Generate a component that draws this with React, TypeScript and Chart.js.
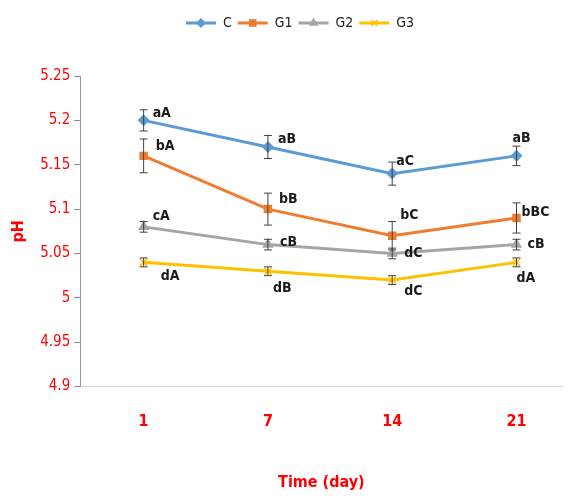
import React, { useEffect, useRef } from "react";
import { Chart, registerables } from "chart.js";

Chart.register(...registerables);

const categories = ["1", "7", "14", "21"];
const seriesNames = ["C", "G1", "G2", "G3"];

const cValues = [5.2, 5.17, 5.14, 5.16];
const g1Values = [5.16, 5.1, 5.07, 5.09];
const g2Values = [5.08, 5.06, 5.05, 5.06];
const g3Values = [5.04, 5.03, 5.02, 5.04];

const cErrors = [0.012, 0.013, 0.013, 0.011];
const g1Errors = [0.019, 0.018, 0.016, 0.017];
const g2Errors = [0.006, 0.006, 0.006, 0.006];
const g3Errors = [0.005, 0.005, 0.005, 0.005];

const cLetters = ["aA", "aB", "aC", "aB"];
const g1Letters = ["bA", "bB", "bC", "bBC"];
const g2Letters = ["cA", "cB", "dC", "cB"];
const g3Letters = ["dA", "dB", "dC", "dA"];

const yTicks = [4.9, 4.95, 5, 5.05, 5.1, 5.15, 5.2, 5.25];

// styling (not data): label offsets in pixels relative to each point
const letterOffsets = [
  [[9, -7], [10, -8], [4, -12], [-4, -18]],
  [[12, -10], [11, -10], [8, -20], [5, -6]],
  [[9, -11], [12, -2], [12, 0], [11, 0]],
  [[17, 14], [5, 17], [12, 11], [0, 16]],
];

const colors = ["#5B9BD5", "#ED7D31", "#A5A5A5", "#FFC000"];
const pointStyles = ["rectRot", "rect", "triangle", "crossRot"];
const pointRadii = [6, 6, 6.5, 5];

const allValues = [cValues, g1Values, g2Values, g3Values];
const allErrors = [cErrors, g1Errors, g2Errors, g3Errors];
const allLetters = [cLetters, g1Letters, g2Letters, g3Letters];

const NARROW = "'Liberation Sans Narrow', 'DejaVu Sans Condensed', 'Open Sans', sans-serif";
const LEGEND_PAD = 6;
const LEGEND_FONT = 14;
const LEGEND_SHIFT = 18;

function drawMarker(ctx: CanvasRenderingContext2D, style: string, x: number, y: number, r: number, color: string) {
  ctx.save();
  ctx.fillStyle = color;
  ctx.strokeStyle = color;
  ctx.lineWidth = 1.5;
  ctx.beginPath();
  if (style === "rectRot") {
    ctx.moveTo(x, y - r);
    ctx.lineTo(x + r, y);
    ctx.lineTo(x, y + r);
    ctx.lineTo(x - r, y);
    ctx.closePath();
    ctx.fill();
  } else if (style === "rect") {
    ctx.rect(x - r * 0.75, y - r * 0.75, r * 1.5, r * 1.5);
    ctx.fill();
  } else if (style === "triangle") {
    ctx.moveTo(x, y - r);
    ctx.lineTo(x + r * 0.87, y + r * 0.5);
    ctx.lineTo(x - r * 0.87, y + r * 0.5);
    ctx.closePath();
    ctx.fill();
  } else {
    const d = r * 0.7;
    ctx.moveTo(x - d, y - d);
    ctx.lineTo(x + d, y + d);
    ctx.moveTo(x + d, y - d);
    ctx.lineTo(x - d, y + d);
    ctx.stroke();
  }
  ctx.restore();
}

const errorBarPlugin = {
  id: "errorBars",
  afterDatasetsDraw(chart: any) {
    const ctx = chart.ctx;
    const y = chart.scales.y;
    ctx.save();
    ctx.strokeStyle = "#404040";
    ctx.lineWidth = 1;
    chart.data.datasets.forEach((ds: any, di: number) => {
      const meta = chart.getDatasetMeta(di);
      meta.data.forEach((pt: any, i: number) => {
        const v = allValues[di][i];
        const e = allErrors[di][i];
        const yt = y.getPixelForValue(v + e);
        const yb = y.getPixelForValue(v - e);
        const x = pt.x;
        ctx.beginPath();
        ctx.moveTo(x, yt);
        ctx.lineTo(x, yb);
        ctx.moveTo(x - 4, yt);
        ctx.lineTo(x + 4, yt);
        ctx.moveTo(x - 4, yb);
        ctx.lineTo(x + 4, yb);
        ctx.stroke();
      });
    });
    ctx.restore();
  },
  afterDraw(chart: any) {
    const ctx = chart.ctx;
    ctx.save();
    ctx.fillStyle = "#1a1a1a";
    ctx.font = `bold 14px ${NARROW}`;
    ctx.textAlign = "left";
    ctx.textBaseline = "middle";
    chart.data.datasets.forEach((ds: any, di: number) => {
      const meta = chart.getDatasetMeta(di);
      meta.data.forEach((pt: any, i: number) => {
        const off = letterOffsets[di][i];
        ctx.fillText(allLetters[di][i], pt.x + off[0], pt.y + off[1]);
      });
    });
    const legend = chart.legend;
    if (legend && legend.legendHitBoxes) {
      legend.legendHitBoxes.forEach((hb: any, i: number) => {
        const cx = hb.left + 15;
        const cy = legend.top + LEGEND_PAD + LEGEND_FONT / 2;
        drawMarker(ctx, pointStyles[i], cx, cy, pointRadii[i] * 0.85, colors[i]);
      });
    }
    ctx.restore();
  },
};

const legendSpacePlugin = {
  id: "legendSpace",
  beforeInit(chart: any) {
    const legend = chart.legend;
    if (!legend) return;
    const origFit = legend.fit;
    legend.fit = function () {
      origFit.bind(legend)();
      this.height += 36;
    };
  },
  afterUpdate(chart: any) {
    const legend = chart.legend;
    if (!legend) return;
    legend.left += LEGEND_SHIFT;
    legend.right += LEGEND_SHIFT;
    legend.adjustHitBoxes();
  },
};

export default function App() {
  const ref = useRef<HTMLCanvasElement | null>(null);

  useEffect(() => {
    if (!ref.current) return;
    const datasets = seriesNames.map((name, di) => ({
      label: name,
      data: allValues[di].map((v, i) => ({ x: i, y: v })),
      borderColor: colors[di],
      backgroundColor: colors[di],
      borderWidth: 3,
      pointStyle: pointStyles[di] as any,
      pointRadius: pointRadii[di],
      pointBorderWidth: di === 3 ? 1.5 : 0,
      pointBackgroundColor: colors[di],
      pointBorderColor: colors[di],
      tension: 0,
    }));

    const chart = new Chart(ref.current, {
      type: "line",
      data: { datasets },
      options: {
        animation: false,
        responsive: true,
        maintainAspectRatio: false,
        layout: { padding: { left: 0, right: 5, top: 10, bottom: 0 } },
        plugins: {
          legend: {
            display: true,
            position: "top",
            labels: {
              boxWidth: 30,
              boxHeight: 3,
              padding: LEGEND_PAD,
              color: "#222",
              font: { family: NARROW, size: LEGEND_FONT },
              generateLabels: (c: any) =>
                c.data.datasets.map((ds: any, i: number) => ({
                  text: ds.label,
                  fillStyle: colors[i],
                  strokeStyle: colors[i],
                  lineWidth: 0,
                  hidden: false,
                  datasetIndex: i,
                  fontColor: "#222",
                })),
            },
          },
          tooltip: { enabled: false },
        },
        scales: {
          x: {
            type: "linear",
            min: -0.51,
            max: 3.37,
            afterBuildTicks: (s: any) => {
              s.ticks = categories.map((_, i) => ({ value: i }));
            },
            ticks: {
              color: "#FF0000",
              font: { family: NARROW, size: 16, weight: "bold" },
              padding: 26,
              callback: (v: any) => categories[Math.round(v)] ?? "",
            },
            grid: { display: false, drawTicks: false },
            border: { display: true, color: "#d0d0d0" },
            title: {
              display: true,
              text: "Time (day)",
              color: "#FF0000",
              font: { family: NARROW, size: 16, weight: "bold" },
              padding: { top: 15, bottom: 6 },
            },
          },
          y: {
            min: 4.9,
            max: 5.25,
            afterBuildTicks: (s: any) => {
              s.ticks = yTicks.map((v) => ({ value: v }));
            },
            ticks: {
              color: "#FF0000",
              font: { family: NARROW, size: 15 },
              padding: 4,
              callback: (v: any) => String(+Number(v).toFixed(2)),
            },
            grid: {
              display: true,
              drawOnChartArea: false,
              drawTicks: true,
              tickLength: 6,
              color: "#888",
            },
            border: { display: true, color: "#999" },
            title: {
              display: true,
              text: "pH",
              color: "#FF0000",
              font: { family: NARROW, size: 16, weight: "bold" },
              padding: { top: 9, bottom: 8 },
            },
          },
        },
      },
      plugins: [legendSpacePlugin, errorBarPlugin],
    });
    return () => chart.destroy();
  }, []);

  return (
    <div style={{ position: "fixed", left: 0, top: 0, width: 569, height: 498, background: "#fff" }}>
      <canvas ref={ref} />
    </div>
  );
}
